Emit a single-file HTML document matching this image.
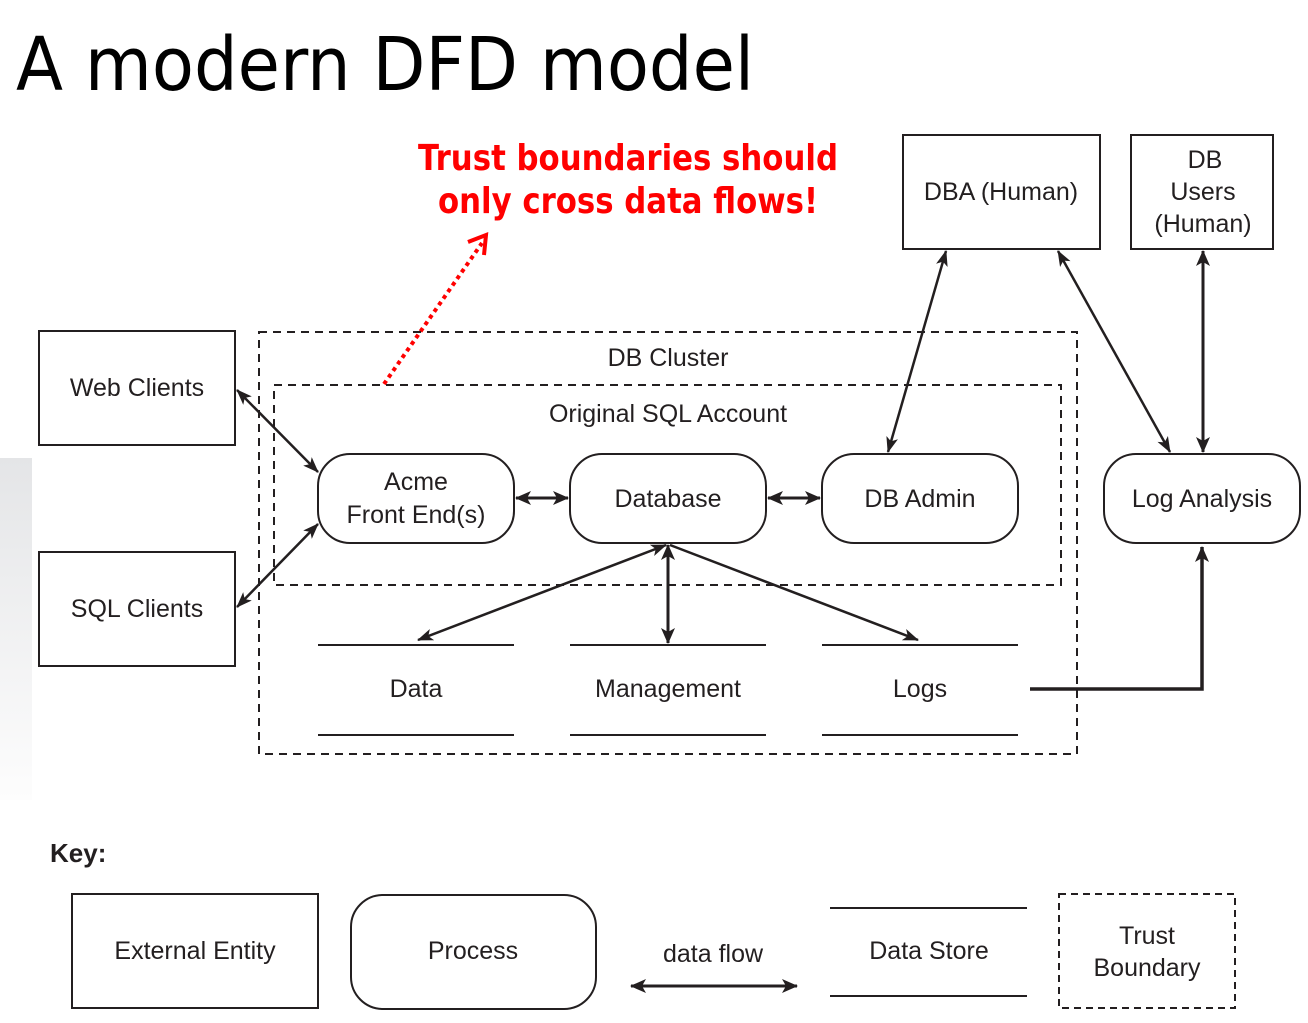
<!DOCTYPE html>
<html><head><meta charset="utf-8"><style>
html,body{margin:0;padding:0;background:#fff;}
svg{display:block}
.t{font-family:"Liberation Sans Narrow","Liberation Sans",sans-serif;font-size:25px;fill:#231f20;text-anchor:middle}
</style></head><body>
<svg width="1308" height="1023" viewBox="0 0 1308 1023" xmlns="http://www.w3.org/2000/svg">
<defs>
<linearGradient id="g" x1="0" y1="0" x2="0" y2="1"><stop offset="0" stop-color="#e4e5e7"/><stop offset="1" stop-color="#fdfdfd"/></linearGradient>
<marker id="a" viewBox="0 0 16 12" refX="15" refY="6" markerWidth="16" markerHeight="12" markerUnits="userSpaceOnUse" orient="auto-start-reverse"><path d="M0,0 L16,6 L0,12 L4,6 z" fill="#231f20"/></marker>
<marker id="b" viewBox="0 0 16 14" refX="15" refY="7" markerWidth="16" markerHeight="14" markerUnits="userSpaceOnUse" orient="auto-start-reverse"><path d="M0,0 L16,7 L0,14 L4,7 z" fill="#231f20"/></marker>
</defs>
<rect x="0" y="458" width="32" height="342" fill="url(#g)"/>
<text x="16" y="90" font-family="'DejaVu Sans','Liberation Sans',sans-serif" font-size="74" textLength="738" lengthAdjust="spacingAndGlyphs" fill="#000">A modern DFD model</text>
<g font-family="'DejaVu Sans','Liberation Sans',sans-serif" font-weight="bold" font-size="36" fill="#ff0000" text-anchor="middle">
<text x="628" y="170" textLength="420" lengthAdjust="spacingAndGlyphs">Trust boundaries should</text>
<text x="628" y="213" textLength="380" lengthAdjust="spacingAndGlyphs">only cross data flows!</text>
</g>
<line x1="384" y1="384" x2="482" y2="243" stroke="#ff0000" stroke-width="4" stroke-dasharray="4,4"/>
<path d="M468,242 L486,235 L484,255" fill="none" stroke="#ff0000" stroke-width="4"/>
<g fill="none" stroke="#231f20" stroke-width="2">
<rect x="259" y="332" width="818" height="422" stroke-dasharray="8,6"/>
<rect x="274" y="385" width="787" height="200" stroke-dasharray="8,6"/>
<rect x="903" y="135" width="197" height="114"/>
<rect x="1131" y="135" width="142" height="114"/>
<rect x="39" y="331" width="196" height="114"/>
<rect x="39" y="552" width="196" height="114"/>
<rect x="318" y="454" width="196" height="89" rx="32"/>
<rect x="570" y="454" width="196" height="89" rx="32"/>
<rect x="822" y="454" width="196" height="89" rx="32"/>
<rect x="1104" y="454" width="196" height="89" rx="32"/>
<line x1="318" y1="645" x2="514" y2="645"/><line x1="318" y1="735" x2="514" y2="735"/>
<line x1="570" y1="645" x2="766" y2="645"/><line x1="570" y1="735" x2="766" y2="735"/>
<line x1="822" y1="645" x2="1018" y2="645"/><line x1="822" y1="735" x2="1018" y2="735"/>
<rect x="72" y="894" width="246" height="114"/>
<rect x="351" y="895" width="245" height="114" rx="32"/>
<line x1="830" y1="908" x2="1027" y2="908"/><line x1="830" y1="996" x2="1027" y2="996"/>
<rect x="1059" y="894" width="176" height="114" stroke-dasharray="7,5"/>
</g>
<g stroke="#231f20" stroke-width="2.5" fill="none">
<line x1="237" y1="390" x2="318" y2="472" marker-start="url(#a)" marker-end="url(#a)"/>
<line x1="237" y1="607" x2="318" y2="524" marker-start="url(#a)" marker-end="url(#a)"/>
<line x1="516" y1="498" x2="568" y2="498" stroke-width="3" marker-start="url(#b)" marker-end="url(#b)"/>
<line x1="768" y1="498" x2="820" y2="498" stroke-width="3" marker-start="url(#b)" marker-end="url(#b)"/>
<line x1="946" y1="251" x2="888" y2="452" marker-start="url(#a)" marker-end="url(#a)"/>
<line x1="1058" y1="251" x2="1170" y2="452" marker-start="url(#a)" marker-end="url(#a)"/>
<line x1="1203" y1="251" x2="1203" y2="452" stroke-width="3" marker-start="url(#b)" marker-end="url(#b)"/>
<line x1="666" y1="545" x2="418" y2="640" marker-start="url(#a)" marker-end="url(#a)"/>
<line x1="668" y1="545" x2="668" y2="643" stroke-width="3" marker-start="url(#b)" marker-end="url(#b)"/>
<line x1="670" y1="545" x2="918" y2="640" marker-end="url(#a)"/>
<polyline points="1030,689 1202,689 1202,547" stroke-width="3.5" marker-end="url(#b)"/>
<line x1="631" y1="986" x2="797" y2="986" stroke-width="3" marker-start="url(#b)" marker-end="url(#b)"/>
</g>
<g class="t">
<text x="1001" y="200" class="t">DBA (Human)</text>
<text x="1205" y="168" class="t">DB</text>
<text x="1203" y="200" class="t">Users</text>
<text x="1203" y="232" class="t">(Human)</text>
<text x="137" y="396" class="t">Web Clients</text>
<text x="137" y="617" class="t">SQL Clients</text>
<text x="668" y="366" class="t">DB Cluster</text>
<text x="668" y="422" class="t">Original SQL Account</text>
<text x="416" y="490" class="t">Acme</text>
<text x="416" y="523" class="t">Front End(s)</text>
<text x="668" y="507" class="t">Database</text>
<text x="920" y="507" class="t">DB Admin</text>
<text x="1202" y="507" class="t">Log Analysis</text>
<text x="416" y="697" class="t">Data</text>
<text x="668" y="697" class="t">Management</text>
<text x="920" y="697" class="t">Logs</text>
<text x="195" y="959" class="t">External Entity</text>
<text x="473" y="959" class="t">Process</text>
<text x="713" y="962" class="t">data flow</text>
<text x="929" y="959" class="t">Data Store</text>
<text x="1147" y="944" class="t">Trust</text>
<text x="1147" y="976" class="t">Boundary</text>
</g>
<text x="50" y="862" font-family="'Liberation Sans Narrow','Liberation Sans',sans-serif" font-weight="bold" font-size="26" fill="#231f20">Key:</text>
</svg>
</body></html>
